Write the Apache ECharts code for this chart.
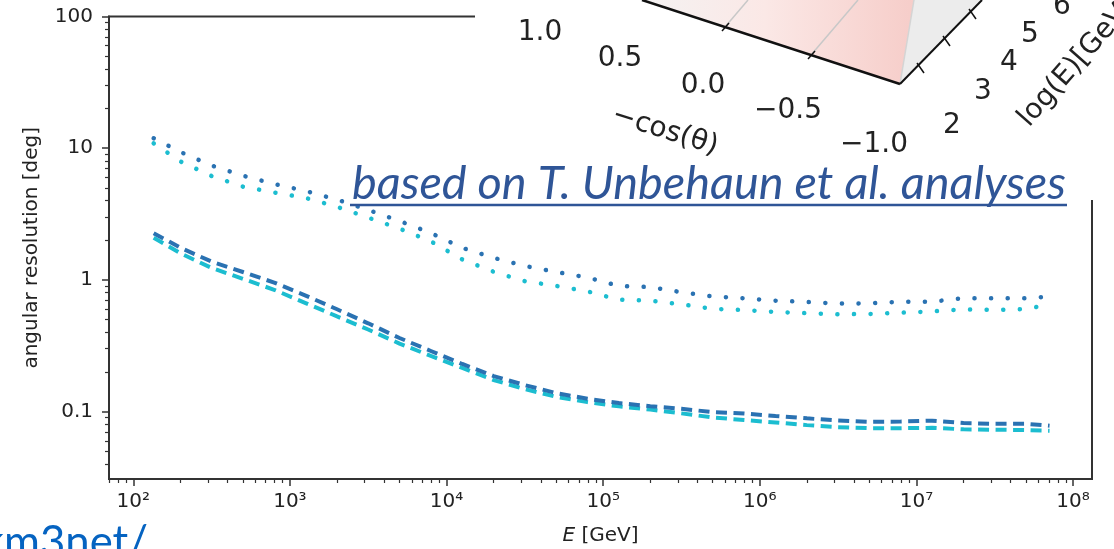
<!DOCTYPE html>
<html>
<head>
<meta charset="utf-8">
<script src="https://cdn.jsdelivr.net/npm/echarts@6/dist/echarts.min.js"></script>
<style>
  html, body { margin: 0; padding: 0; background: #fff; }
  #chart { width: 1114px; height: 549px; }
</style>
</head>
<body>
<div id="chart"></div>
<script>
// energy in GeV (shared by all four curves)
const energy = [135, 200, 316, 501, 794, 1260, 2000, 3160, 5010, 7940,
  1.26e4, 2.0e4, 3.16e4, 5.01e4, 7.94e4, 1.26e5, 2.0e5, 3.16e5, 5.01e5, 7.94e5,
  1.26e6, 2.0e6, 3.16e6, 5.01e6, 7.94e6, 1.26e7, 2.0e7, 3.16e7, 5.01e7, 7.08e7];

// angular resolution [deg]
const dottedBlue = [11.9, 9.36, 7.39, 6.18, 5.35, 4.73, 4.07, 3.40, 2.80, 2.27,
  1.75, 1.47, 1.275, 1.148, 1.043, 0.899, 0.882, 0.806, 0.749, 0.725,
  0.695, 0.680, 0.661, 0.664, 0.683, 0.683, 0.727, 0.725, 0.726, 0.747];
const dottedCyan = [10.89, 7.93, 6.15, 5.11, 4.61, 4.19, 3.59, 2.97, 2.45, 1.96,
  1.43, 1.152, 0.977, 0.900, 0.818, 0.707, 0.697, 0.652, 0.603, 0.590,
  0.571, 0.559, 0.548, 0.551, 0.563, 0.576, 0.598, 0.591, 0.601, 0.652];
const dashedBlue = [2.26, 1.756, 1.377, 1.148, 0.954, 0.760, 0.598, 0.468, 0.362, 0.2885,
  0.2298, 0.186, 0.1589, 0.1382, 0.1251, 0.116, 0.1099, 0.105, 0.099, 0.0966,
  0.0926, 0.0888, 0.0855, 0.0835, 0.084, 0.0853, 0.0818, 0.0808, 0.0808, 0.0781];
const dashedCyan = [2.091, 1.592, 1.233, 1.019, 0.841, 0.667, 0.528, 0.420, 0.3284, 0.2644,
  0.2144, 0.1735, 0.1482, 0.1295, 0.118, 0.1095, 0.1035, 0.0969, 0.0902, 0.0863,
  0.0826, 0.0789, 0.0761, 0.0748, 0.0748, 0.0753, 0.0733, 0.0728, 0.0724, 0.0716];

// ticks
const xTickExp = [2, 3, 4, 5, 6, 7, 8];
const yTickVals = [0.1, 1, 10, 100];
const yTickLabels = ['0.1', '1', '10', '100'];

// labels of the cut-off 3D plot in the corner
const cosTicks = ['1.0', '0.5', '0.0', '\u22120.5', '\u22121.0'];
const logETicks = ['2', '3', '4', '5', '6'];

const noteText = 'based on T. Unbehaun et al. analyses';
const linkText = 'km3net/';

const xMin = 1.845, xMax = 8.121;   // log10 E
const yMin = -1.512, yMax = 2;      // log10 deg

const lg = v => Math.round(Math.log10(v) * 1e6) / 1e6;
const sup = { 2: '\u00b2', 3: '\u00b3', 4: '\u2074', 5: '\u2075', 6: '\u2076', 7: '\u2077', 8: '\u2078' };

function minorTicks(lo, hi) {
  const out = [];
  for (let n = Math.floor(lo) - 1; n <= Math.ceil(hi); n++) {
    for (let k = 2; k <= 9; k++) {
      const v = n + Math.log10(k);
      if (v >= lo && v <= hi) out.push(v);
    }
  }
  return out;
}

function toPairs(vals) {
  return energy.map((e, i) => [Math.log10(e), Math.log10(vals[i])]);
}

function fitFont(str, style, family, target) {
  const ctx = document.createElement('canvas').getContext('2d');
  ctx.font = style + ' 40px ' + family;
  return 40 * target / ctx.measureText(str).width;
}

const axisColor = '#333';
const tickFont = { fontFamily: 'DejaVu Sans', fontSize: 20, color: '#222' };
const blue = '#2a72b2';
const cyan = '#1cbdd0';

function lineSeries(vals, color, dash, width, cap) {
  return {
    type: 'line',
    data: toPairs(vals),
    symbol: 'none',
    silent: true,
    lineStyle: { color: color, width: width, type: dash, cap: cap }
  };
}

// decoration: corner of the neighbouring 3D figure
const txt = (t, x, y, rot) => ({
  type: 'text', x: x, y: y, rotation: rot || 0, z: 103,
  style: {
    text: t, x: 0, y: 0, fill: '#222', font: '28px "DejaVu Sans"',
    align: 'center', verticalAlign: 'middle', textAlign: 'center', textVerticalAlign: 'middle'
  }
});
const seg = (x1, y1, x2, y2, color, w) => ({
  type: 'line', z: 102, silent: true,
  shape: { x1: x1, y1: y1, x2: x2, y2: y2 },
  style: { stroke: color, lineWidth: w }
});

const cosPos = [[540, 33], [620, 59], [703, 86], [788, 111], [874, 145]];
const logEPos = [[952, 126], [983, 92], [1009, 63], [1030, 35], [1062, 7]];

const deco = [
  { type: 'rect', z: 100, silent: true, shape: { x: 475, y: 0, width: 639, height: 200 }, style: { fill: '#fff' } },
  { type: 'polygon', z: 101, silent: true, shape: { points: [[642, 0], [914, 0], [900, 84]] },
    style: { fill: new echarts.graphic.LinearGradient(0, 0, 1, 0, [
      { offset: 0, color: '#f4f2f2' }, { offset: 0.45, color: '#fbe8e6' }, { offset: 1, color: '#f6cdc9' }]) } },
  { type: 'polygon', z: 101, silent: true, shape: { points: [[900, 84], [914, 0], [982, 0]] }, style: { fill: '#ececec' } },
  seg(900, 84, 914, 0, '#d4d4d4', 1.5),
  seg(725, 27, 748, 0, '#c8c8c8', 1.5),
  seg(811, 55, 858, 0, '#c8c8c8', 1.5),
  seg(642, 0, 900, 84, '#111', 2.5),
  seg(900, 84, 982, 0, '#111', 2),
  seg(722, 31, 729, 23, '#111', 1.5),
  seg(808, 59, 815, 51, '#111', 1.5),
  seg(917, 63, 924, 73, '#111', 1.5),
  seg(943, 36, 950, 46, '#111', 1.5),
  seg(969, 9, 976, 19, '#111', 1.5)
];
cosTicks.forEach((t, i) => deco.push(txt(t, cosPos[i][0], cosPos[i][1])));
logETicks.forEach((t, i) => deco.push(txt(t, logEPos[i][0], logEPos[i][1])));
deco.push(txt('\u2212cos(\u03b8)', 665, 131, -0.31));
deco.push(txt('log(E)[GeV]', 1077, 62, 0.85));

const noteSize = fitFont(noteText, 'italic', 'Lato', 714);
deco.push({
  type: 'text', z: 110, silent: true,
  style: {
    text: noteText, x: 352, y: 184, fill: '#2f5597', font: 'italic ' + noteSize + 'px Lato',
    align: 'left', verticalAlign: 'middle', textAlign: 'left', textVerticalAlign: 'middle'
  }
});
deco.push(seg(350, 205, 1067, 205, '#2f5597', 2.5));

const linkSize = fitFont(linkText.slice(1), '', 'Lato', 144);
deco.push({
  type: 'text', z: 110, silent: true,
  style: {
    text: linkText, x: 148, y: 528 + 0.333 * linkSize, fill: '#0563c1', font: linkSize + 'px Lato',
    align: 'right', verticalAlign: 'middle', textAlign: 'right', textVerticalAlign: 'middle'
  }
});

const chart = echarts.init(document.getElementById('chart'));
const yMajor = yTickVals.map(lg);

chart.setOption({
  animation: false,
  backgroundColor: '#fff',
  grid: {
    left: 109, right: 22, top: 16.5, bottom: 70,
    show: true, borderColor: axisColor, borderWidth: 2, backgroundColor: 'transparent',
    outerBoundsMode: 'none'
  },
  xAxis: [
    {
      type: 'value', min: xMin, max: xMax,
      axisLine: { show: true, onZero: false, lineStyle: { color: axisColor, width: 2 } },
      axisTick: { show: true, customValues: xTickExp, length: 7, lineStyle: { color: axisColor, width: 1.5 } },
      axisLabel: Object.assign({ customValues: xTickExp, margin: 13, formatter: v => '10' + sup[Math.round(v)] }, tickFont),
      splitLine: { show: false },
      name: '{i|E} [GeV]', nameLocation: 'middle', nameGap: 47,
      nameTextStyle: Object.assign({ rich: { i: Object.assign({ fontStyle: 'italic' }, tickFont) } }, tickFont)
    },
    {
      type: 'value', min: xMin, max: xMax, position: 'bottom',
      axisLine: { show: false, onZero: false },
      axisTick: { show: true, customValues: minorTicks(xMin, xMax), length: 4, lineStyle: { color: axisColor, width: 1.2 } },
      axisLabel: { show: false },
      splitLine: { show: false }
    }
  ],
  yAxis: [
    {
      type: 'value', min: yMin, max: yMax,
      axisLine: { show: true, onZero: false, lineStyle: { color: axisColor, width: 2 } },
      axisTick: { show: true, customValues: yMajor, length: 7, lineStyle: { color: axisColor, width: 1.5 } },
      axisLabel: Object.assign({
        customValues: yMajor, margin: 16,
        formatter: v => yTickLabels[yMajor.findIndex(t => Math.abs(t - v) < 1e-6)]
      }, tickFont),
      splitLine: { show: false },
      name: 'angular resolution [deg]', nameLocation: 'middle', nameGap: 67, nameRotate: 90,
      nameTextStyle: tickFont
    },
    {
      type: 'value', min: yMin, max: yMax, position: 'left',
      axisLine: { show: false, onZero: false },
      axisTick: { show: true, customValues: minorTicks(yMin, yMax), length: 4, lineStyle: { color: axisColor, width: 1.2 } },
      axisLabel: { show: false },
      splitLine: { show: false }
    }
  ],
  series: [
    lineSeries(dottedCyan, cyan, [0.1, 16.5], 4.5, 'round'),
    lineSeries(dottedBlue, blue, [0.1, 16.5], 4.5, 'round'),
    lineSeries(dashedCyan, cyan, [11, 6.5], 4, 'butt'),
    lineSeries(dashedBlue, blue, [11, 6.5], 4, 'butt')
  ],
  graphic: { elements: deco }
});
</script>
</body>
</html>
